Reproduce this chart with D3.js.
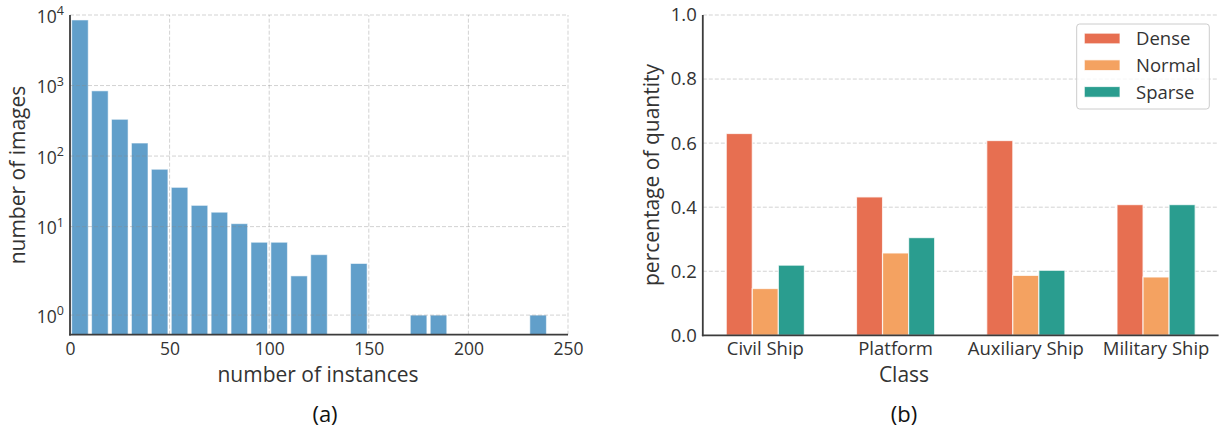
<!DOCTYPE html>
<html>
<head>
<meta charset="utf-8">
<script src="https://cdn.jsdelivr.net/npm/d3@7"></script>
<style>
  html, body { margin: 0; padding: 0; background: #fff; }
  svg { display: block; font-family: "Open Sans", "Noto Sans", sans-serif; }
</style>
</head>
<body>
<svg id="fig" width="1225" height="436"></svg>
<script>
// ---- (a) distribution of instances per image ----
const binStarts   = [0, 10, 20, 30, 40, 50, 60, 70, 80, 90, 100, 110, 120, 130, 140, 150, 160, 170, 180, 190, 200, 210, 220, 230];
const imageCounts = [8500, 840, 332, 153, 65, 36, 20, 16, 11, 6, 6, 2, 4, 0, 3, 0, 0, 1, 1, 0, 0, 0, 0, 1];
const binWidth = 10;
const instanceTicks = [0, 50, 100, 150, 200, 250];
const countTickExponents = [0, 1, 2, 3, 4];

// ---- (b) density share per class ----
const classes = ["Civil Ship", "Platform", "Auxiliary Ship", "Military Ship"];
const densityLevels = ["Dense", "Normal", "Sparse"];
const denseShare  = [0.630, 0.432, 0.608, 0.408];
const normalShare = [0.146, 0.257, 0.187, 0.182];
const sparseShare = [0.219, 0.305, 0.203, 0.408];
const shareTicks = [0.0, 0.2, 0.4, 0.6, 0.8, 1.0];
const levelColors = ["#e76f51", "#f4a261", "#2a9d8f"];

const TEXT = "#333";
const SPINE = "#3c3c3c";
const GRID_DASH = "4,2";
const FONT = "Open Sans, Noto Sans, sans-serif";

const svg = d3.select("#fig");
svg.append("rect").attr("width", 1225).attr("height", 436).attr("fill", "#fff");

// symmetric-log transform (linear below the threshold, log10 above)
const LINTHRESH = 2;
const LINSCALE_ADJ = 1 / (1 - 1 / 10);
function symlog(v) {
  return v <= LINTHRESH ? v * LINSCALE_ADJ
                        : LINTHRESH * (LINSCALE_ADJ + Math.log10(v / LINTHRESH));
}

// ================= panel (a) =================
const xA = d3.scaleLinear().domain([0, 250]).range([70, 568]);
const yA = d3.scaleLinear().domain([symlog(0.5), symlog(1e4)]).range([334.7, 15]);
const gA = svg.append("g");

const histData = binStarts.map((s, i) => ({ start: s, count: imageCounts[i] }))
                          .filter(d => d.count > 0);
const barFrac = 0.83;
gA.append("g").selectAll("rect")
  .data(histData)
  .join("rect")
  .attr("x", d => xA(d.start + binWidth * (1 - barFrac) / 2))
  .attr("width", d => xA(d.start + binWidth * barFrac) - xA(d.start))
  .attr("y", d => yA(symlog(d.count)))
  .attr("height", d => yA.range()[0] - yA(symlog(d.count)))
  .attr("fill", "#619fca")
  .attr("stroke", "#ffffff")
  .attr("stroke-opacity", 0.55)
  .attr("stroke-width", 1);

// grid drawn over the bars, semi-transparent
const gridA = gA.append("g").attr("stroke", "#8a8a8a").attr("stroke-opacity", 0.38)
  .attr("stroke-dasharray", GRID_DASH).attr("stroke-width", 1);
gridA.selectAll("line.h")
  .data(countTickExponents)
  .join("line").attr("class", "h")
  .attr("x1", xA.range()[0]).attr("x2", xA.range()[1])
  .attr("y1", e => yA(symlog(10 ** e))).attr("y2", e => yA(symlog(10 ** e)));
gridA.selectAll("line.v")
  .data(instanceTicks.filter(t => t > 0))
  .join("line").attr("class", "v")
  .attr("x1", t => xA(t)).attr("x2", t => xA(t))
  .attr("y1", yA.range()[0]).attr("y2", yA.range()[1]);

// axes
const axA_x = gA.append("g")
  .attr("transform", `translate(0,${yA.range()[0]})`)
  .call(d3.axisBottom(xA).tickValues(instanceTicks).tickSize(0).tickPadding(7.5));
const axA_y = gA.append("g")
  .attr("transform", `translate(${xA.range()[0]},0)`)
  .call(d3.axisLeft(yA)
    .tickValues(countTickExponents.map(e => symlog(10 ** e)))
    .tickSize(0).tickPadding(6).tickFormat(() => ""));
[axA_x, axA_y].forEach(ax => {
  ax.select(".domain").remove();
  ax.selectAll(".tick text").attr("fill", TEXT).attr("font-size", "17.5px")
    .attr("font-family", FONT);
});
axA_y.selectAll(".tick text").each(function(d, i) {
  const t = d3.select(this).attr("dy", "0.4em");
  t.append("tspan").text("10");
  t.append("tspan").attr("dy", "-0.6em").attr("font-size", "12.5px")
    .text(countTickExponents[i]);
});
gA.append("line").attr("x1", xA.range()[0]).attr("x2", xA.range()[0])
  .attr("y1", yA.range()[1]).attr("y2", yA.range()[0] + 0.9)
  .attr("stroke", SPINE).attr("stroke-width", 1.8);
gA.append("line").attr("x1", xA.range()[0] - 0.9).attr("x2", xA.range()[1])
  .attr("y1", yA.range()[0]).attr("y2", yA.range()[0])
  .attr("stroke", SPINE).attr("stroke-width", 1.8);

gA.append("text").attr("x", 318).attr("y", 381.5).attr("text-anchor", "middle")
  .attr("font-size", "21px").attr("fill", TEXT).text("number of instances");
gA.append("text").attr("transform", "translate(25,175) rotate(-90)")
  .attr("text-anchor", "middle").attr("font-size", "21px").attr("fill", TEXT)
  .text("number of images");
gA.append("text").attr("x", 325).attr("y", 422).attr("text-anchor", "middle")
  .attr("font-size", "22px").attr("fill", "#111").text("(a)");

// ================= panel (b) =================
const xB = d3.scaleBand().domain(classes).range([702.8, 1218.6])
  .paddingInner(0.4).paddingOuter(0.18);
const xSub = d3.scaleBand().domain(densityLevels).range([0, xB.bandwidth()]);
const yB = d3.scaleLinear().domain([0, 1]).range([335.3, 15]);
const gB = svg.append("g");

// grid behind the bars
gB.append("g").selectAll("line")
  .data(shareTicks.filter(t => t > 0))
  .join("line")
  .attr("x1", xB.range()[0]).attr("x2", xB.range()[1])
  .attr("y1", t => yB(t)).attr("y2", t => yB(t))
  .attr("stroke", "#d3d3d3").attr("stroke-width", 1).attr("stroke-dasharray", GRID_DASH);

const shareSeries = [denseShare, normalShare, sparseShare];
const barRows = [];
classes.forEach((c, i) => densityLevels.forEach((lvl, j) => {
  barRows.push({ cls: c, level: lvl, value: shareSeries[j][i], color: levelColors[j] });
}));
gB.append("g").selectAll("rect")
  .data(barRows)
  .join("rect")
  .attr("x", d => xB(d.cls) + xSub(d.level))
  .attr("width", xSub.bandwidth())
  .attr("y", d => yB(d.value))
  .attr("height", d => yB(0) - yB(d.value))
  .attr("fill", d => d.color)
  .attr("stroke", "#ffffff").attr("stroke-opacity", 0.75).attr("stroke-width", 1.2);

const axB_x = gB.append("g")
  .attr("transform", `translate(0,${yB(0)})`)
  .call(d3.axisBottom(xB).tickSize(0).tickPadding(6.5));
const axB_y = gB.append("g")
  .attr("transform", `translate(${xB.range()[0]},0)`)
  .call(d3.axisLeft(yB).tickValues(shareTicks).tickSize(0).tickPadding(6)
    .tickFormat(d3.format(".1f")));
[axB_x, axB_y].forEach(ax => {
  ax.select(".domain").remove();
  ax.selectAll(".tick text").attr("fill", TEXT).attr("font-size", "18.5px")
    .attr("font-family", FONT);
});
gB.append("line").attr("x1", xB.range()[0]).attr("x2", xB.range()[0])
  .attr("y1", yB(1)).attr("y2", yB(0) + 0.9)
  .attr("stroke", SPINE).attr("stroke-width", 1.8);
gB.append("line").attr("x1", xB.range()[0] - 0.9).attr("x2", xB.range()[1])
  .attr("y1", yB(0)).attr("y2", yB(0))
  .attr("stroke", SPINE).attr("stroke-width", 1.8);

gB.append("text").attr("x", 904).attr("y", 381.5).attr("text-anchor", "middle")
  .attr("font-size", "21px").attr("fill", TEXT).text("Class");
gB.append("text").attr("transform", "translate(659,175) rotate(-90)")
  .attr("text-anchor", "middle").attr("font-size", "21px").attr("fill", TEXT)
  .text("percentage of quantity");
gB.append("text").attr("x", 904).attr("y", 422).attr("text-anchor", "middle")
  .attr("font-size", "22px").attr("fill", "#111").text("(b)");

// legend
const leg = gB.append("g").attr("transform", "translate(1076.7,24)");
leg.append("rect").attr("width", 132.6).attr("height", 85).attr("rx", 3)
  .attr("fill", "#fff").attr("fill-opacity", 0.8)
  .attr("stroke", "#cccccc").attr("stroke-width", 1);
densityLevels.forEach((lvl, j) => {
  const cy = 14.5 + j * 26.7;
  leg.append("rect").attr("x", 7.6).attr("y", cy - 5.3).attr("width", 35.7).attr("height", 10.6)
    .attr("fill", levelColors[j]).attr("stroke", "#fff").attr("stroke-opacity", 0.75).attr("stroke-width", 1);
  leg.append("text").attr("x", 59.3).attr("y", cy).attr("dy", "0.36em")
    .attr("font-size", "18.5px").attr("fill", TEXT).text(lvl);
});
</script>
</body>
</html>
